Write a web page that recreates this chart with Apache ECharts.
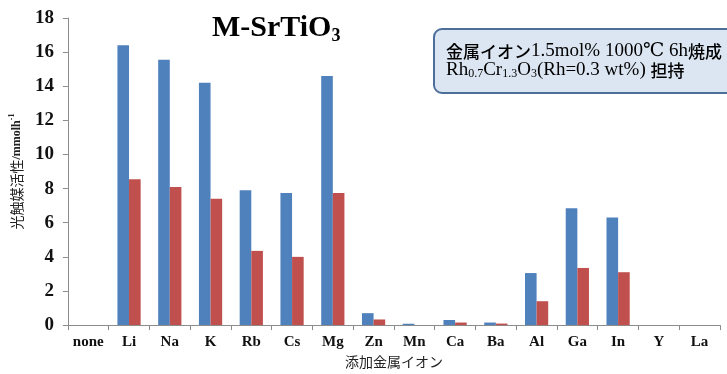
<!DOCTYPE html>
<html>
<head>
<meta charset="utf-8">
<script src="https://cdn.jsdelivr.net/npm/echarts@6/dist/echarts.min.js"></script>
<style>
html,body{margin:0;padding:0;background:#ffffff;}
#chart{width:727px;height:374px;}
</style>
</head>
<body>
<div id="chart"></div>
<script>
// Added metal ion (dopant) for each bar group
const categories = ['none','Li','Na','K','Rb','Cs','Mg','Zn','Mn','Ca','Ba','Al','Ga','In','Y','La'];
// Photocatalytic activity, two evolved gases per dopant
const activityBlue = [0, 16.4, 15.55, 14.2, 7.9, 7.75, 14.6, 0.7, 0.08, 0.3, 0.15, 3.05, 6.85, 6.3, 0, 0];
const activityRed  = [0, 8.55, 8.1, 7.4, 4.35, 4.0, 7.75, 0.33, 0, 0.15, 0.09, 1.4, 3.35, 3.1, 0, 0];
// Value axis ticks
const yTicks = { min: 0, max: 18, step: 2 };

const serif = '"Liberation Serif", "DejaVu Serif", serif';
const jp = '"Noto Sans CJK JP", "Noto Sans", sans-serif';
const axisGray = '#8c8c8c';

const chart = echarts.init(document.getElementById('chart'), null, { renderer: 'canvas' });

chart.setOption({
  animation: false,
  backgroundColor: '#ffffff',
  grid: { left: 64, right: 7, top: 18, bottom: 47, containLabel: false },
  xAxis: {
    type: 'category',
    data: categories,
    boundaryGap: true,
    axisLine: { show: true, lineStyle: { color: axisGray, width: 1 } },
    axisTick: { show: true, length: 5, lineStyle: { color: axisGray } },
    axisLabel: {
      interval: 0, margin: 10,
      fontFamily: serif, fontWeight: 'bold', fontSize: 15, color: '#111'
    },
    name: '添加金属イオン',
    nameLocation: 'middle',
    nameGap: 25,
    nameTextStyle: { fontFamily: jp, fontSize: 14, color: '#222', verticalAlign: 'top' }
  },
  yAxis: {
    type: 'value',
    min: yTicks.min, max: yTicks.max, interval: yTicks.step,
    splitLine: { show: false },
    axisLine: { show: true, lineStyle: { color: axisGray, width: 1 } },
    axisTick: { show: true, length: 5, lineStyle: { color: axisGray } },
    axisLabel: {
      margin: 14,
      fontFamily: serif, fontWeight: 'bold', fontSize: 19, color: '#111'
    },
    name: '{j|光触媒活性}{u|/mmolh}{sup|-1}',
    nameLocation: 'middle',
    nameRotate: 90,
    nameGap: 41,
    nameTextStyle: {
      rich: {
        j: { fontFamily: jp, fontSize: 14, color: '#222', lineHeight: 18 },
        u: { fontFamily: serif, fontWeight: 'bold', fontSize: 12, color: '#222', lineHeight: 18 },
        sup: { fontFamily: serif, fontWeight: 'bold', fontSize: 8, color: '#222', verticalAlign: 'top', lineHeight: 18 }
      }
    }
  },
  series: [
    {
      name: 'blue', type: 'bar', data: activityBlue,
      barGap: '0%', barCategoryGap: '43%',
      itemStyle: { color: '#4f81bd' }
    },
    {
      name: 'red', type: 'bar', data: activityRed,
      barGap: '0%', barCategoryGap: '43%',
      itemStyle: { color: '#c0504d' }
    }
  ],
  graphic: [
    {
      type: 'text',
      left: 212, top: 13,
      style: {
        text: '{a|M-SrTiO}{b|3}',
        rich: {
          a: { fontFamily: serif, fontWeight: 'bold', fontSize: 30, color: '#000', lineHeight: 34 },
          b: { fontFamily: serif, fontWeight: 'bold', fontSize: 18, color: '#000', verticalAlign: 'bottom', lineHeight: 34 }
        }
      }
    },
    {
      type: 'group',
      left: 433, top: 28,
      children: [
        {
          type: 'rect',
          shape: { x: 0, y: 0, width: 320, height: 64, r: 8 },
          style: { fill: '#dce6f2', stroke: '#4d6e99', lineWidth: 2 }
        },
        {
          type: 'text',
          x: 12, y: 13,
          style: {
            text: '{j|金属イオン}{s|1.5mol% 1000℃ 6h}{j|焼成}\n' +
                  '{s|Rh}{sub|0.7}{s|Cr}{sub|1.3}{s|O}{sub|3}{s|(Rh=0.3 wt%) }{j|担持}',
            rich: {
              j: { fontFamily: jp, fontWeight: 500, fontSize: 17, color: '#111', lineHeight: 19 },
              s: { fontFamily: serif, fontSize: 19, color: '#111', lineHeight: 19 },
              sub: { fontFamily: serif, fontSize: 12, color: '#111', verticalAlign: 'bottom', lineHeight: 19 }
            }
          }
        }
      ]
    }
  ]
});
</script>
</body>
</html>
